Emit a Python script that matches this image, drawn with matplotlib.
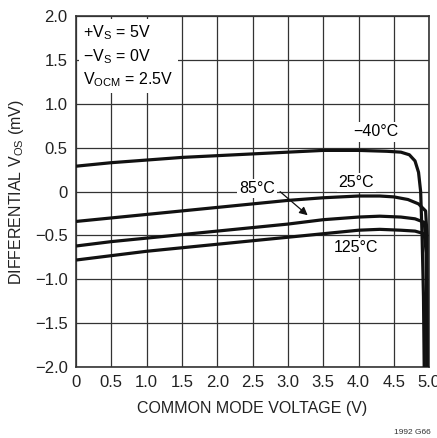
import matplotlib.pyplot as plt

plt.rcParams['font.family'] = ['Liberation Sans Narrow', 'Liberation Sans', 'DejaVu Sans']

# common mode voltage (V) and differential Vos (mV) per temperature
x_m40 = [0, 0.5, 1, 1.5, 2, 2.5, 3, 3.5, 4, 4.4, 4.6, 4.72, 4.8, 4.85, 4.88, 4.9, 4.92, 4.93]
y_m40 = [0.29, 0.33, 0.36, 0.39, 0.41, 0.43, 0.45, 0.47, 0.47, 0.46, 0.45, 0.42, 0.35, 0.22, 0.0, -0.5, -1.2, -2.0]

x_25 = [0, 0.5, 1, 1.5, 2, 2.5, 3, 3.5, 4, 4.3, 4.5, 4.7, 4.85, 4.95, 4.97, 4.97]
y_25 = [-0.34, -0.30, -0.26, -0.22, -0.18, -0.14, -0.10, -0.07, -0.05, -0.05, -0.06, -0.09, -0.14, -0.22, -0.5, -2.0]

x_85 = [0, 0.5, 1, 1.5, 2, 2.5, 3, 3.5, 4, 4.3, 4.6, 4.8, 4.93, 4.96, 4.97]
y_85 = [-0.62, -0.57, -0.53, -0.49, -0.45, -0.41, -0.37, -0.32, -0.29, -0.28, -0.29, -0.31, -0.35, -0.6, -2.0]

x_125 = [0, 0.5, 1, 1.5, 2, 2.5, 3, 3.5, 4, 4.3, 4.6, 4.8, 4.93, 4.96, 4.97]
y_125 = [-0.78, -0.73, -0.68, -0.64, -0.60, -0.56, -0.52, -0.48, -0.44, -0.43, -0.44, -0.45, -0.48, -0.7, -2.0]

x_ticks = [0, 0.5, 1.0, 1.5, 2.0, 2.5, 3.0, 3.5, 4.0, 4.5, 5.0]
x_labels = ['0', '0.5', '1.0', '1.5', '2.0', '2.5', '3.0', '3.5', '4.0', '4.5', '5.0']
y_ticks = [-2.0, -1.5, -1.0, -0.5, 0, 0.5, 1.0, 1.5, 2.0]
y_labels = ['\u22122.0', '\u22121.5', '\u22121.0', '\u22120.5', '0', '0.5', '1.0', '1.5', '2.0']

fig = plt.figure(figsize=(4.37, 4.38), dpi=100)
ax = fig.add_axes([0.174, 0.162, 0.808, 0.801])

for xs, ys in [(x_m40, y_m40), (x_25, y_25), (x_85, y_85), (x_125, y_125)]:
    ax.plot(xs, ys, color='#111111', lw=2.3, solid_capstyle='butt', zorder=3)

ax.set_xlim(0, 5)
ax.set_ylim(-2, 2)
ax.set_xticks(x_ticks)
ax.set_xticklabels(x_labels)
ax.set_yticks(y_ticks)
ax.set_yticklabels(y_labels)
ax.tick_params(length=0, labelsize=12, pad=6, colors='#222222')
ax.grid(True, color='#333333', lw=0.9)
for s in ax.spines.values():
    s.set_color('#333333')
    s.set_linewidth(1.2)

ax.set_xlabel('COMMON MODE VOLTAGE (V)', fontsize=11.5, labelpad=8, color='#222222')
ax.set_ylabel('DIFFERENTIAL V$_{\\mathregular{OS}}$ (mV)', fontsize=11.5, labelpad=6, color='#222222')

box = dict(facecolor='white', edgecolor='none', pad=1.5)
ax.text(4.24, 0.68, '\u221240\u00b0C', fontsize=11.5, ha='center', va='center', bbox=box, zorder=4)
ax.text(3.97, 0.10, '25\u00b0C', fontsize=11.5, ha='center', va='center', bbox=box, zorder=4)
ax.text(2.56, 0.04, '85\u00b0C', fontsize=11.5, ha='center', va='center', bbox=box, zorder=4)
ax.text(3.97, -0.64, '125\u00b0C', fontsize=11.5, ha='center', va='center', bbox=box, zorder=4)
ax.annotate('', xy=(3.31, -0.29), xytext=(2.86, 0.02),
            arrowprops=dict(arrowstyle='-|>', color='#111111', lw=0.9, mutation_scale=12), zorder=4)

ax.text(0.1, 1.92, '+V$_{\\mathregular{S}}$ = 5V\n\u2212V$_{\\mathregular{S}}$ = 0V\nV$_{\\mathregular{OCM}}$ = 2.5V',
        fontsize=11.5, ha='left', va='top', linespacing=1.35,
        bbox=dict(facecolor='white', edgecolor='none', pad=3), zorder=4)

fig.text(0.985, 0.005, '1992 G66', fontsize=6, ha='right', va='bottom', color='#333333')

fig.savefig('out.png', dpi=100)
